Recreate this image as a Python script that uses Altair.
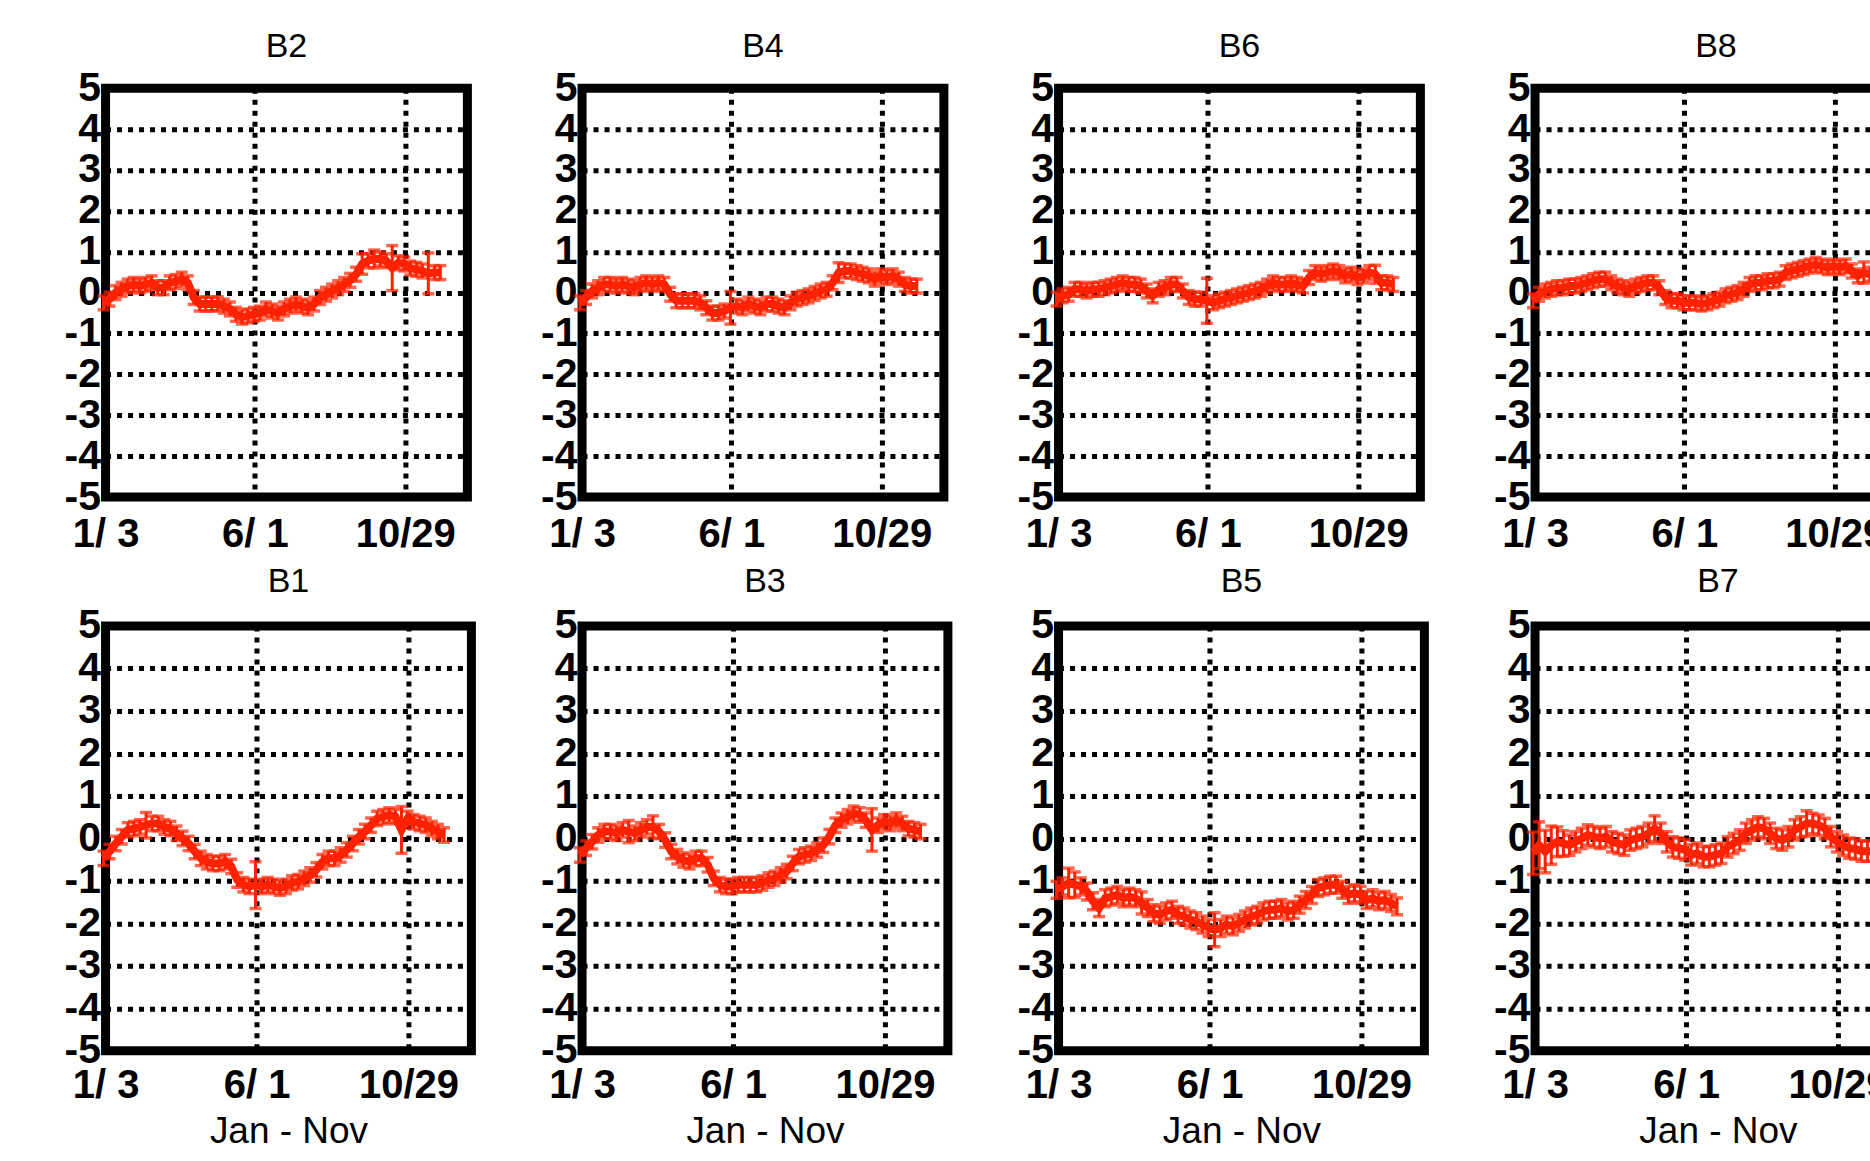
import altair as alt
import pandas as pd

# ---------------- data ----------------
days = [1, 7, 13, 19, 25, 31, 37, 43, 49, 55,
        61, 67, 73, 79, 85, 91, 97, 103, 109, 115,
        121, 127, 133, 139, 145, 151, 157, 163, 169, 175,
        181, 187, 193, 199, 205, 211, 217, 223, 229, 235,
        241, 247, 253, 259, 265, 271, 277, 283, 289, 295,
        301, 307, 313, 319, 325, 331, 337, 343]

B2 = [-0.25, -0.16, 0.0, 0.08, 0.16, 0.2, 0.16, 0.2, 0.24, 0.12,
      0.12, 0.24, 0.27, 0.33, 0.24, -0.12, -0.28, -0.28, -0.28, -0.27,
      -0.33, -0.4, -0.53, -0.6, -0.57, -0.53, -0.5, -0.4, -0.45, -0.5,
      -0.4, -0.33, -0.28, -0.33, -0.37, -0.28, -0.12, -0.04, 0.04, 0.12,
      0.2, 0.3, 0.45, 0.7, 0.78, 0.82, 0.82, 0.78, 0.6, 0.73,
      0.7, 0.6, 0.57, 0.53, 0.47, 0.49, 0.49, None]
B4 = [-0.25, -0.12, 0.04, 0.12, 0.2, 0.2, 0.16, 0.2, 0.16, 0.12,
      0.2, 0.24, 0.2, 0.24, 0.2, -0.04, -0.2, -0.2, -0.2, -0.2,
      -0.25, -0.37, -0.5, -0.5, -0.45, -0.37, -0.33, -0.37, -0.28, -0.33,
      -0.37, -0.28, -0.28, -0.33, -0.37, -0.25, -0.16, -0.12, -0.08, -0.02,
      0.04, 0.08, 0.24, 0.49, 0.53, 0.53, 0.49, 0.45, 0.41, 0.33,
      0.41, 0.37, 0.41, 0.33, 0.2, 0.16, 0.16, None]
B6 = [-0.16, -0.08, -0.04, 0.08, 0.08, 0.04, 0.08, 0.08, 0.12, 0.16,
      0.2, 0.24, 0.2, 0.2, 0.16, 0.04, -0.08, 0.08, 0.12, 0.2,
      0.2, 0.04, -0.12, -0.16, -0.16, -0.2, -0.25, -0.2, -0.16, -0.12,
      -0.08, -0.04, 0.0, 0.04, 0.08, 0.16, 0.24, 0.2, 0.2, 0.24,
      0.2, 0.16, 0.37, 0.49, 0.45, 0.49, 0.53, 0.49, 0.41, 0.45,
      0.37, 0.41, 0.49, 0.45, 0.24, 0.24, 0.2, None]
B8 = [-0.2, -0.04, 0.04, 0.08, 0.12, 0.12, 0.16, 0.16, 0.2, 0.24,
      0.29, 0.33, 0.33, 0.24, 0.16, 0.12, 0.08, 0.16, 0.2, 0.24,
      0.24, 0.12, -0.12, -0.2, -0.2, -0.25, -0.25, -0.25, -0.28, -0.25,
      -0.2, -0.16, -0.08, -0.04, 0.0, 0.08, 0.2, 0.24, 0.24, 0.29,
      0.29, 0.33, 0.49, 0.53, 0.57, 0.61, 0.65, 0.69, 0.65, 0.61,
      0.65, 0.61, 0.65, 0.53, 0.41, 0.49, 0.45, 0.45]
B1 = [-0.47, -0.31, -0.12, 0.04, 0.2, 0.23, 0.27, 0.31, 0.35, 0.35,
      0.27, 0.23, 0.12, 0.0, -0.12, -0.31, -0.47, -0.55, -0.59, -0.59,
      -0.55, -0.66, -0.98, -1.09, -1.13, -1.1, -1.13, -1.09, -1.13, -1.17,
      -1.13, -1.05, -1.02, -0.94, -0.86, -0.74, -0.55, -0.47, -0.47, -0.39,
      -0.27, -0.12, 0.04, 0.16, 0.31, 0.47, 0.51, 0.55, 0.51, 0.2,
      0.47, 0.39, 0.35, 0.31, 0.23, 0.16, 0.08, None]
B3 = [-0.39, -0.23, -0.08, 0.08, 0.16, 0.16, 0.12, 0.2, 0.16, 0.12,
      0.2, 0.27, 0.27, 0.16, -0.04, -0.31, -0.43, -0.51, -0.55, -0.47,
      -0.47, -0.62, -0.94, -1.09, -1.13, -1.13, -1.09, -1.09, -1.09, -1.09,
      -1.05, -0.98, -0.94, -0.86, -0.78, -0.59, -0.43, -0.39, -0.35, -0.27,
      -0.16, 0.04, 0.31, 0.43, 0.51, 0.59, 0.55, 0.43, 0.2, 0.31,
      0.39, 0.35, 0.43, 0.35, 0.23, 0.2, 0.16, None]
B5 = [-1.21, -1.13, -1.05, -1.09, -1.13, -1.25, -1.48, -1.64, -1.41, -1.37,
      -1.33, -1.41, -1.37, -1.41, -1.52, -1.64, -1.76, -1.8, -1.72, -1.68,
      -1.8, -1.84, -1.91, -1.95, -2.03, -2.11, -2.15, -2.11, -2.03, -2.07,
      -1.99, -1.91, -1.84, -1.8, -1.72, -1.68, -1.68, -1.64, -1.72, -1.68,
      -1.56, -1.45, -1.33, -1.17, -1.13, -1.09, -1.09, -1.21, -1.33, -1.29,
      -1.33, -1.45, -1.41, -1.48, -1.45, -1.52, -1.6, None]
B7 = [-0.35, -0.16, -0.31, -0.16, -0.08, -0.12, -0.16, -0.08, 0.0, 0.08,
      0.04, 0.0, 0.04, -0.08, -0.12, -0.16, -0.04, 0.0, 0.04, 0.12,
      0.23, 0.12, -0.08, -0.2, -0.23, -0.27, -0.39, -0.35, -0.43, -0.43,
      -0.39, -0.35, -0.2, -0.12, -0.04, 0.12, 0.2, 0.27, 0.23, 0.12,
      0.0, -0.04, 0.04, 0.2, 0.27, 0.35, 0.35, 0.31, 0.23, 0.04,
      -0.08, -0.16, -0.23, -0.25, -0.3, -0.3, -0.3, -0.3]

series = {"B2": B2, "B4": B4, "B6": B6, "B8": B8,
          "B1": B1, "B3": B3, "B5": B5, "B7": B7}

# typical error-bar half width per panel, and the visibly larger ones
err_base = {"B1": 0.17, "B2": 0.17, "B3": 0.17, "B4": 0.17,
            "B5": 0.2, "B6": 0.17, "B7": 0.24, "B8": 0.17}
err_big = {
    "B2": {289: 0.55, 325: 0.5, 259: 0.25, 271: 0.22},
    "B4": {151: 0.4, 259: 0.24},
    "B6": {151: 0.55, 319: 0.22},
    "B8": {331: 0.26},
    "B1": {43: 0.3, 151: 0.55, 295: 0.55},
    "B3": {49: 0.26, 73: 0.26, 289: 0.5},
    "B5": {13: 0.35, 19: 0.3, 157: 0.4, 85: 0.26},
    "B7": {1: 0.5, 7: 0.55, 13: 0.5, 19: 0.45, 25: 0.35, 31: 0.3, 121: 0.3, 271: 0.3},
}

panel_order = ["B2", "B4", "B6", "B8", "B1", "B3", "B5", "B7"]
bottom_names = ["B1", "B3", "B5", "B7"]

x_domain = [3, 364]
tick_days = [3, 152, 302]
tick_text = ["1/ 3", "6/ 1", "10/29"]
y_ticks = [-5, -4, -3, -2, -1, 0, 1, 2, 3, 4, 5]
x_title = "Jan - Nov"

RED = "#ff2200"
FONT = "Liberation Sans"

rows = []
for name, vals in series.items():
    for d, v in zip(days, vals):
        if v is None:
            continue
        e = err_big[name].get(d, err_base[name])
        rows.append({"panel": name, "day": d, "v": v, "lo": v - e, "hi": v + e})
df = pd.DataFrame(rows)

lab_expr = ""
for td, tt in zip(tick_days[:-1], tick_text[:-1]):
    lab_expr += f"datum.value == {td} ? '{tt}' : "
lab_expr += f"'{tick_text[-1]}'"


def panel(name, w, h, bottom):
    d = df[df["panel"] == name]
    base = alt.Chart(d)
    xenc = alt.X(
        "day:Q",
        scale=alt.Scale(domain=x_domain, nice=False, zero=False),
        axis=alt.Axis(values=tick_days, labelExpr=lab_expr, labelFlush=False,
                      labelOverlap=False, labelPadding=(15 if bottom else 17)),
        title=(x_title if bottom else None),
    )
    yenc = alt.Y(
        "v:Q",
        scale=alt.Scale(domain=[-5, 5], nice=False, zero=False),
        axis=alt.Axis(values=y_ticks, labelExpr="'' + datum.value",
                      labelFlush=False, labelOverlap=False),
        title=None,
    )
    line = base.mark_line(color=RED, strokeWidth=8).encode(x=xenc, y=yenc)
    rule = base.mark_rule(color=RED, strokeWidth=3).encode(
        x="day:Q", y="lo:Q", y2="hi:Q")
    cap_lo = base.mark_tick(color=RED, orient="horizontal", size=12,
                            thickness=3.5).encode(x="day:Q", y="lo:Q")
    cap_hi = base.mark_tick(color=RED, orient="horizontal", size=12,
                            thickness=3.5).encode(x="day:Q", y="hi:Q")
    return alt.layer(line, rule, cap_lo, cap_hi).properties(
        width=w, height=h,
        title=alt.TitleParams(text=name, frame="group", anchor="middle",
                              offset=(6 if bottom else 3.5)),
    )


panels = []
for n in panel_order:
    if n in bottom_names:
        panels.append(panel(n, 366, 425, True))
    else:
        panels.append(panel(n, 362, 409, False))

chart = (
    alt.concat(*panels, columns=4, spacing={"row": 129, "column": 110.7},
               bounds="flush", align="each")
    .properties(padding={"left": 59.6, "top": 25, "right": -35.8, "bottom": 0},
                background="white")
    .configure_view(stroke="black", strokeWidth=9)
    .configure_axis(domain=False, ticks=False, grid=True, gridColor="black",
                    gridDash=[5, 6], gridWidth=5, gridOpacity=1,
                    labelFont=FONT, labelFontSize=40, labelFontWeight="bold",
                    labelColor="black", titleFont=FONT, titleFontSize=37,
                    titleFontWeight="normal", titleColor="black")
    .configure_axisX(titlePadding=8)
    .configure_axisY(labelPadding=5, labelFontSize=41)
    .configure_title(font=FONT, fontSize=34, fontWeight="normal",
                     color="black")
)

chart.save("out.html", embed_options={"renderer": "svg", "actions": False})
